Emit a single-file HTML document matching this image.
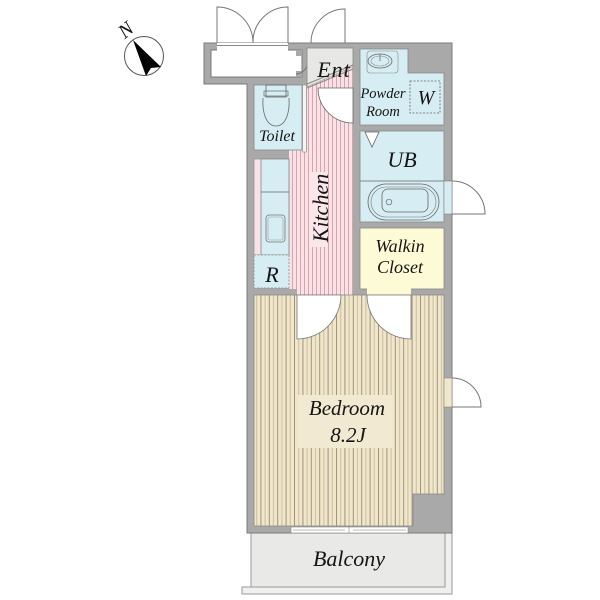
<!DOCTYPE html>
<html><head><meta charset="utf-8"><style>html,body{margin:0;padding:0;background:#fff}svg{display:block}text{font-family:"Liberation Serif",serif;font-style:italic;fill:#151515}</style></head>
<body>
<svg width="600" height="600" viewBox="0 0 600 600" xmlns="http://www.w3.org/2000/svg">
<defs>
<pattern id="kp" width="4" height="10" patternUnits="userSpaceOnUse"><rect width="4" height="10" fill="#f9e1e5"/><rect x="0" width="1" height="10" fill="#d3a6ae"/></pattern>
<pattern id="bp" width="8.4" height="10" patternUnits="userSpaceOnUse"><rect width="8.4" height="10" fill="#f1e6c9"/><rect x="0" width="1" height="10" fill="#9a9384"/><rect x="4.2" width="1" height="10" fill="#c9bd9e"/></pattern>
</defs>

<!-- compass -->
<circle cx="144" cy="56" r="19.5" fill="#fff" stroke="#555" stroke-width="1"/>
<polygon points="133,40 161,67 151,68 146,76" fill="#000"/>
<text x="0" y="0" font-size="20" text-anchor="middle" transform="translate(130,35) rotate(-40)">N</text>

<!-- exterior doors top -->
<g fill="none" stroke="#777" stroke-width="1">
<path d="M217,43 V7 A36,36 0 0 1 253,43"/>
<path d="M288,43 V7 A35,35 0 0 0 253,43"/>
<path d="M253,38 V45"/>
<path d="M345,43 V9 A34,34 0 0 0 311,43"/>
<path d="M452,214 H485 A33,33 0 0 0 452,181"/>
<path d="M452,407 H481 A29,29 0 0 0 452,378"/>
</g>

<!-- balcony -->
<path d="M242,587 V594 H452 V533 H445 V587 Z" fill="#f0f0ee" stroke="#999" stroke-width="1"/>
<rect x="251" y="533" width="194" height="54" fill="#e9e9e7" stroke="#999" stroke-width="1"/>

<!-- main walls -->
<path d="M204,43 H452 V533 H247 V84 H204 Z" fill="#a9a9a9" stroke="#7a7a7a" stroke-width="1"/>

<!-- storage -->
<rect x="211" y="50" width="91" height="27" fill="#fff" stroke="#777" stroke-width="1"/>
<rect x="217" y="43" width="71" height="8" fill="#fff"/>
<line x1="217" y1="45.5" x2="288" y2="45.5" stroke="#888" stroke-width="1"/>
<rect x="296" y="50" width="6" height="6" fill="#a9a9a9"/>
<rect x="296" y="71" width="6" height="6" fill="#a9a9a9"/>
<path d="M307,66 A12,12 0 0 1 296,74" fill="none" stroke="#777"/>

<!-- Ent -->
<polygon points="307,48 353,48 353,67 307,87" fill="#e7e7e5" stroke="#888" stroke-width="0.8"/>

<!-- kitchen -->
<polygon points="307,87 353,67 353,295 341,295 341,289 297,289 289,289 289,150 307,150" fill="url(#kp)"/>
<rect x="297" y="288" width="44" height="7" fill="url(#kp)"/>
<line x1="307" y1="84" x2="353" y2="65" stroke="#888" stroke-width="1"/>
<line x1="307" y1="88" x2="353" y2="69" stroke="#888" stroke-width="1"/>
<path d="M353,88 H318 A35,35 0 0 0 353,123 Z" fill="#fff" stroke="#666" stroke-width="0.8"/>
<rect x="309" y="172" width="19" height="75" fill="#fbe6ea"/>
<rect x="254" y="159" width="35" height="96" fill="#f9e1e5" stroke="#999" stroke-width="0.8"/>
<rect x="261" y="159" width="28" height="96" fill="#d6edf3" stroke="#888" stroke-width="0.8"/>
<line x1="261" y1="192" x2="289" y2="192" stroke="#666" stroke-width="0.8"/>
<rect x="266" y="215" width="19" height="27" rx="3" fill="none" stroke="#777" stroke-width="0.8"/>
<rect x="268" y="217" width="15" height="23" rx="2" fill="none" stroke="#999" stroke-width="0.6"/>
<rect x="254" y="255" width="35" height="33" fill="#d6edf3" stroke="#888" stroke-width="0.8" stroke-dasharray="2,1.5"/>

<!-- toilet -->
<rect x="254" y="85" width="48" height="65" fill="#d6edf3" stroke="#888" stroke-width="0.8"/>
<rect x="302.5" y="85" width="4" height="67" fill="#f4f4f4" stroke="#888" stroke-width="0.6"/>
<rect x="266" y="85" width="20" height="12" fill="none" stroke="#666" stroke-width="0.8"/>
<rect x="264" y="91" width="24" height="5" fill="none" stroke="#666" stroke-width="0.7"/>
<path d="M263,98 C262,112 266,126 276,126 C286,126 290,112 289,98" fill="none" stroke="#666" stroke-width="0.8"/>

<!-- powder room -->
<polygon points="360,49 408,49 408,73 444,73 444,125 360,125" fill="#d6edf3" stroke="#888" stroke-width="0.8"/>
<rect x="367" y="51" width="31" height="22" rx="3" fill="none" stroke="#888" stroke-width="0.6"/>
<ellipse cx="380" cy="61" rx="12" ry="7" fill="none" stroke="#666" stroke-width="0.8"/>
<ellipse cx="380" cy="61" rx="9" ry="5" fill="none" stroke="#888" stroke-width="0.6"/>
<line x1="380" y1="54" x2="380" y2="61" stroke="#666" stroke-width="0.8"/>
<rect x="410" y="81" width="30" height="32" fill="none" stroke="#666" stroke-width="0.8" stroke-dasharray="2,1.5"/>

<!-- UB -->
<rect x="360" y="131" width="84" height="91" fill="#d6edf3" stroke="#888" stroke-width="0.8"/>
<line x1="360" y1="181" x2="452" y2="181" stroke="#666" stroke-width="0.8"/>
<polygon points="365,132 379,132 372,147" fill="#fff" stroke="#666" stroke-width="0.8"/>
<rect x="368" y="184" width="71" height="36" rx="18" fill="none" stroke="#666" stroke-width="0.8"/>
<rect x="371" y="187" width="65" height="30" rx="15" fill="none" stroke="#777" stroke-width="0.6"/>
<rect x="382" y="189" width="46" height="23" rx="6" fill="none" stroke="#666" stroke-width="0.8"/>
<circle cx="389" cy="202" r="2.8" fill="none" stroke="#666" stroke-width="0.7"/>
<rect x="444" y="181" width="8" height="33" fill="#d6edf3" stroke="#888" stroke-width="0.6"/>

<!-- closet -->
<rect x="360" y="228" width="84" height="61" fill="#fdfbd5" stroke="#888" stroke-width="0.8"/>
<rect x="367" y="288" width="44" height="7" fill="#fdfbd5"/>

<!-- bedroom -->
<polygon points="254,295 444,295 444,494 413,494 413,526 254,526" fill="url(#bp)" stroke="#888" stroke-width="0.8"/>
<rect x="298" y="395" width="94" height="53" fill="#f2e9d3"/>
<path d="M297,295 H341 A44,44 0 0 1 297,339 Z" fill="#fff" stroke="#777" stroke-width="0.8"/>
<path d="M411,295 H367 A44,44 0 0 0 411,339 Z" fill="#fff" stroke="#777" stroke-width="0.8"/>
<rect x="444" y="378" width="8" height="29" fill="#efe6cc" stroke="#888" stroke-width="0.6"/>
<rect x="291" y="527" width="117" height="6" fill="#fff" stroke="#888" stroke-width="0.6"/>
<line x1="349" y1="527" x2="349" y2="533" stroke="#888" stroke-width="0.6"/>
<line x1="293" y1="530" x2="345" y2="530" stroke="#bbb" stroke-width="1"/>
<line x1="353" y1="530" x2="406" y2="530" stroke="#bbb" stroke-width="1"/>

<!-- labels -->
<text x="334" y="77" font-size="22" text-anchor="middle" letter-spacing="1">Ent</text>
<text x="383" y="98" font-size="14.5" text-anchor="middle">Powder</text>
<text x="383" y="116" font-size="14.5" text-anchor="middle">Room</text>
<text x="426" y="104" font-size="20" text-anchor="middle">W</text>
<text x="277" y="141" font-size="16" text-anchor="middle">Toilet</text>
<text x="402" y="167" font-size="22" text-anchor="middle">UB</text>
<text x="0" y="0" font-size="22" text-anchor="middle" transform="translate(328,208) rotate(-90)">Kitchen</text>
<text x="272" y="282" font-size="22" text-anchor="middle">R</text>
<text x="400" y="252" font-size="18" text-anchor="middle">Walkin</text>
<text x="400" y="273" font-size="18" text-anchor="middle">Closet</text>
<text x="347" y="415" font-size="21" text-anchor="middle">Bedroom</text>
<text x="348" y="442" font-size="21" text-anchor="middle">8.2J</text>
<text x="349" y="566" font-size="22" text-anchor="middle">Balcony</text>
</svg>
</body></html>
